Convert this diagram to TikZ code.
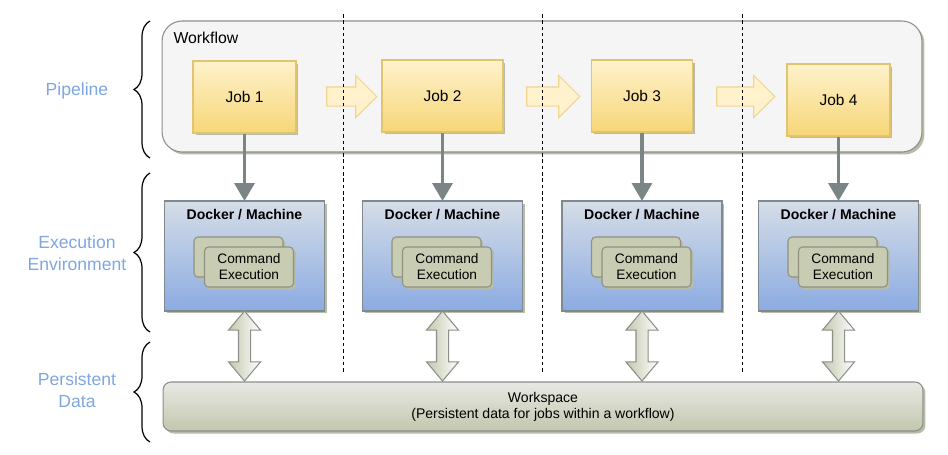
\documentclass[tikz,border=0pt]{standalone}
\usepackage{fontspec}
\setmainfont{Liberation Sans}
\usepackage{xcolor}
\usepackage{tikz}
\usetikzlibrary{arrows.meta,shapes.arrows,shadows,decorations.pathreplacing}
\definecolor{jobtop}{HTML}{FFF2CC}
\definecolor{jobbot}{HTML}{F6D677}
\definecolor{jobline}{HTML}{E2C46E}
\definecolor{docktop}{HTML}{D5DDE7}
\definecolor{dockbot}{HTML}{8BABE2}
\definecolor{dockline}{HTML}{7F8A90}
\definecolor{cmdfill}{HTML}{C8CCB3}
\definecolor{cmdline}{HTML}{8E927E}
\definecolor{wstop}{HTML}{E8E9E4}
\definecolor{wsbot}{HTML}{C2C7AD}
\definecolor{wsline}{HTML}{8A8F88}
\definecolor{shadowgray}{HTML}{B6BCA8}
\definecolor{labelblue}{HTML}{7EA6E0}
\definecolor{pipegray}{HTML}{7B8585}
\definecolor{flowline}{HTML}{F0D590}

\begin{document}
\begin{tikzpicture}[x=.02cm, y=-.02cm, line width=0.6pt,
    shade/.style={drop shadow={shadow xshift=.05cm, shadow yshift=-.05cm, fill=shadowgray, opacity=1}},
    wfbox/.style={draw=wsline, fill=black!4, rounded corners=.4cm, minimum width=15.2cm, minimum height=2.62cm, shade},
    job/.style={draw=jobline, top color=jobtop, bottom color=jobbot, minimum height=1.44cm, font=\fontsize{8.8}{10}\selectfont, shade},
    flow/.style={single arrow, draw=flowline, fill=jobtop, minimum width=.82cm, single arrow head extend=.23cm, single arrow tip angle=90, inner xsep=0pt, inner ysep=.18cm, outer sep=0pt},
    dock/.style={draw=dockline, top color=docktop, bottom color=dockbot, minimum width=3.2cm, minimum height=2.2cm, outer sep=0pt, shade},
    dtitle/.style={font=\fontsize{8}{9.6}\selectfont\bfseries},
    cmd/.style={draw=cmdline, fill=cmdfill, rounded corners=.08cm, minimum width=1.78cm, minimum height=.8cm, align=center, font=\fontsize{7.8}{9.2}\selectfont, shade},
    dbl/.style={double arrow, rotate=90, draw=wsline, left color=wsbot, right color=white, minimum height=1.4cm, minimum width=.62cm, double arrow head extend=.2cm, double arrow tip angle=80, inner xsep=0pt, inner ysep=.11cm},
    ws/.style={draw=wsline, top color=wstop, bottom color=wsbot, rounded corners=.16cm, minimum width=15.2cm, minimum height=.98cm, align=center, font=\fontsize{8}{9.2}\selectfont, shade},
    lbl/.style={text=labelblue, align=center, font=\fontsize{10}{12.5}\selectfont},
    brace/.style={decorate, decoration={brace, amplitude=.32cm}, line width=.7pt},
    down/.style={draw=pipegray, line width=2pt, -{Triangle[length=.36cm, width=.4cm]}}]
  \useasboundingbox (0,0) rectangle (948,454);

  \node[wfbox] (wf) at (542,86.5) {};
  \node[anchor=base west, inner sep=0pt, font=\fontsize{9}{11}\selectfont] (wflabel) at (173,43) {Workflow};

  \node[job, minimum width=2.06cm] (job1) at (244.5,97) {Job 1};
  \node[job, minimum width=2.42cm] (job2) at (442.5,96) {Job 2};
  \node[job, minimum width=2.02cm] (job3) at (642,96) {Job 3};
  \node[job, minimum width=2.06cm] (job4) at (838.5,100) {Job 4};

  \node[flow, minimum height=1cm] (flow1) at (347,96.5) {};
  \node[flow, minimum height=1.06cm] (flow2) at (548.5,96.5) {};
  \node[flow, minimum height=1.16cm] (flow3) at (741,96.5) {};

  \node[dock] (dock1) at (244.5,256) {};
  \node[dock] (dock2) at (442.5,256) {};
  \node[dock] (dock3) at (642,256) {};
  \node[dock] (dock4) at (838.5,256) {};

  \node[dtitle] (dt1) at (244.5,215) {Docker / Machine};
  \node[dtitle] (dt2) at (442.5,215) {Docker / Machine};
  \node[dtitle] (dt3) at (642,215) {Docker / Machine};
  \node[dtitle] (dt4) at (838.5,215) {Docker / Machine};

  \node[cmd] (cmdb1) at (238.5,257) {};
  \node[cmd] (cmdf1) at (249,267) {Command\\Execution};
  \node[cmd] (cmdb2) at (436.5,257) {};
  \node[cmd] (cmdf2) at (447,267) {Command\\Execution};
  \node[cmd] (cmdb3) at (636,257) {};
  \node[cmd] (cmdf3) at (646.5,267) {Command\\Execution};
  \node[cmd] (cmdb4) at (832.5,257) {};
  \node[cmd] (cmdf4) at (843,267) {Command\\Execution};

  \draw[down] (job1) -- (dock1);
  \draw[down] (job2) -- (dock2);
  \draw[down] (job3) -- (dock3);
  \draw[down] (job4) -- (dock4);

  \node[ws] (ws) at (543,406.5) {Workspace\\(Persistent data for jobs within a workflow)};

  \node[dbl] (dbl1) at (244.5,346) {};
  \node[dbl] (dbl2) at (442.5,346) {};
  \node[dbl] (dbl3) at (642,346) {};
  \node[dbl] (dbl4) at (838.5,346) {};

  \draw[dash pattern=on 2pt off 1.6pt, line width=.5pt] (343,14) -- (343,372) (542,14) -- (542,372) (742,14) -- (742,372);

  \node[lbl] (pipe) at (77,90.5) {Pipeline};
  \node[lbl] (execenv) at (77,253) {Execution\\Environment};
  \node[lbl] (persist) at (77,390) {Persistent\\Data};

  \draw[brace] (150,158) -- (150,21);
  \draw[brace] (150,332) -- (150,173);
  \draw[brace] (150,442) -- (150,342);
\end{tikzpicture}
\end{document}
